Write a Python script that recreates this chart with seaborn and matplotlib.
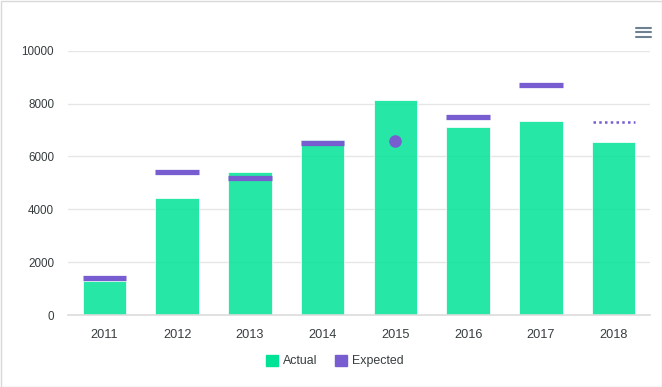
import matplotlib
matplotlib.use("Agg")
import matplotlib.pyplot as plt
import seaborn as sns
import pandas as pd
import numpy as np
from matplotlib.patches import Patch, Rectangle
from matplotlib.lines import Line2D

years = ["2011", "2012", "2013", "2014", "2015", "2016", "2017", "2018"]
actual = [1280, 4420, 5420, 6640, 8130, 7110, 7330, 6550]
expected = [1400, 5400, 5200, 6500, 6600, 7500, 8700, 7300]
yticks = [0, 2000, 4000, 6000, 8000, 10000]

# marker style per category (style config, not data)
goal_style = {"2015": "circle", "2018": "dotted"}

sns.set_theme(style="white")
plt.rcParams["font.family"] = ["Liberation Sans", "DejaVu Sans"]

W, H = 662, 387
fig = plt.figure(figsize=(W / 100, H / 100), dpi=100)
x0, x1, y0, y1 = 68, 650, 50.7, 315
ax = fig.add_axes([x0 / W, 1 - y1 / H, (x1 - x0) / W, (y1 - y0) / H])

green = "#00E396"
purple = "#775DD0"

df = pd.DataFrame({"year": years, "actual": actual})
sns.barplot(data=df, x="year", y="actual", color=green, alpha=0.85,
            width=0.6, ax=ax, saturation=1, edgecolor="white", linewidth=0.6, zorder=2)

bw = 0.6
for i, (yr, e) in enumerate(zip(years, expected)):
    st = goal_style.get(yr, "line")
    if st == "line":
        ax.hlines(e, i - bw / 2, i + bw / 2, colors=purple, linewidth=3.8, zorder=3)
    elif st == "circle":
        ax.scatter([i], [e], s=82, color=purple, zorder=3, linewidths=0)
    else:
        ax.hlines(e, i - bw / 2 + 0.02, i + bw / 2, colors=purple, linewidth=1.8,
                  linestyles=(0, (1, 1.3)), zorder=3)

ax.set_xlim(-0.5, len(years) - 0.5)
ax.set_ylim(0, 10000)
ax.set_yticks(yticks)
ax.set_yticklabels([str(v) for v in yticks], fontsize=8.4, color="#373d3f")
ax.yaxis.grid(True, color="#e6e6e6", linewidth=1, zorder=0)
ax.set_axisbelow(True)
ax.set_xlabel("")
ax.set_ylabel("")
for s in ["top", "right", "left"]:
    ax.spines[s].set_visible(False)
ax.spines["bottom"].set_color("#dcdcdc")
ax.spines["bottom"].set_linewidth(1.2)
ax.tick_params(axis="y", length=0, pad=10)
ax.set_xticks(range(len(years)))
ax.set_xticklabels(years, fontsize=9.2, color="#373d3f")
ax.tick_params(axis="x", length=0, pad=10)
# category boundary ticks
ax.set_xticks(np.arange(-0.5, len(years)), minor=True)
ax.tick_params(axis="x", which="minor", length=6, color="#dcdcdc", width=1)

handles = [Patch(facecolor=green, edgecolor=green, label="Actual"),
           Patch(facecolor=purple, edgecolor=purple, label="Expected")]
fig.legend(handles=handles, loc="center", bbox_to_anchor=(335 / W, 1 - 361 / H),
           ncol=2, frameon=False, fontsize=8.9, handlelength=1, handleheight=1,
           handletextpad=0.4, columnspacing=1.4, labelcolor="#373d3f")

# frame around figure
fig.patches.append(Rectangle((0.5 / W, 0.5 / H), 1 - 1 / W, 1 - 1 / H, transform=fig.transFigure,
                             fill=False, edgecolor="#d8d8d8", linewidth=1))
# menu icon
for yy in [27.7, 32.3, 36.7]:
    fig.lines.append(Line2D([636 / W, 651 / W], [1 - yy / H] * 2, transform=fig.transFigure,
                            color="#6E8192", linewidth=1.5))

fig.savefig("out.png", dpi=100)
